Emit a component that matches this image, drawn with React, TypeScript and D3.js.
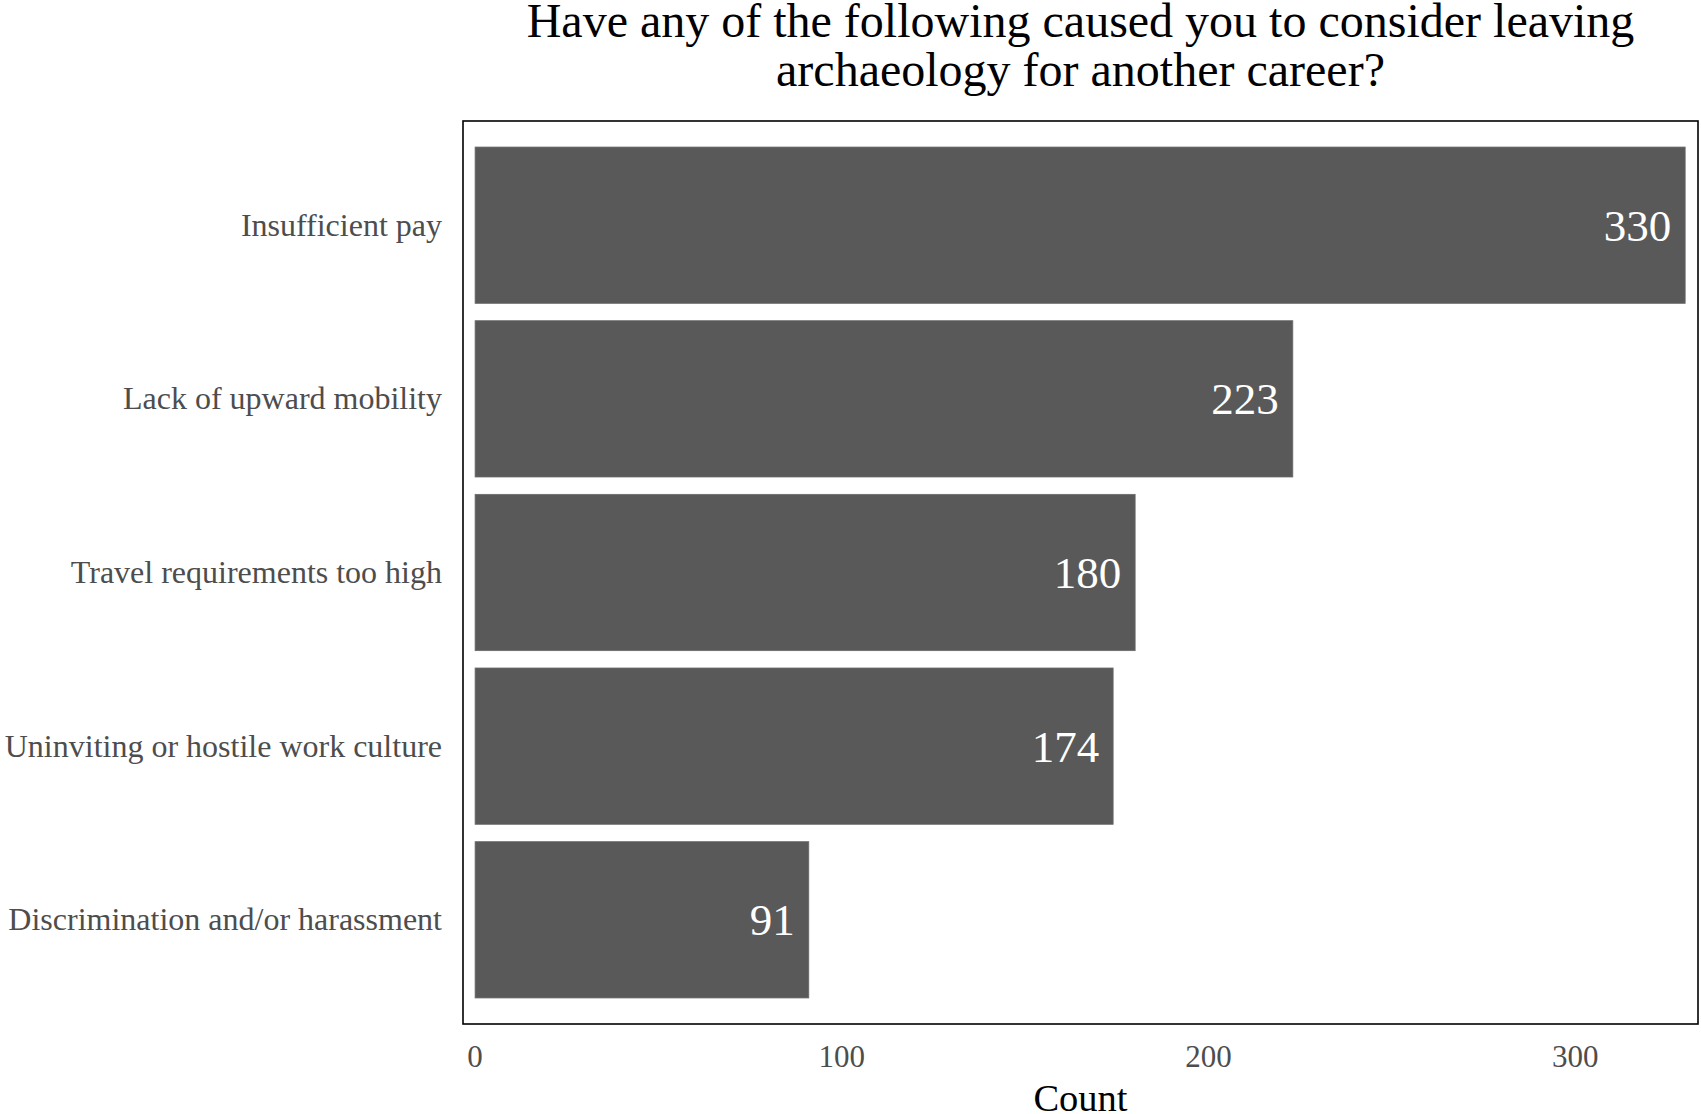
import React from "react";
import * as d3 from "d3";

const categories = [
  "Insufficient pay",
  "Lack of upward mobility",
  "Travel requirements too high",
  "Uninviting or hostile work culture",
  "Discrimination and/or harassment",
];
const counts = [330, 223, 180, 174, 91];
const xTicks = [0, 100, 200, 300];
const titleLines = [
  "Have any of the following caused you to consider leaving",
  "archaeology for another career?",
];
const xLabel = "Count";

const W = 1701;
const H = 1114;
const panel = { left: 463, right: 1698, top: 121, bottom: 1024 };
const FONT = "'Liberation Serif', 'Times New Roman', serif";

export default function App() {
  const x = d3.scaleLinear().domain([-3.3, 333.5]).range([panel.left, panel.right]);
  const y = d3
    .scaleBand<string>()
    .domain(categories)
    .range([panel.top, panel.bottom])
    .paddingInner(0.1)
    .paddingOuter(0.15);
  const cx = (panel.left + panel.right) / 2;

  return (
    <svg
      width={W}
      height={H}
      style={{ position: "absolute", left: 0, top: 0, background: "#fff" }}
      fontFamily={FONT}
    >
      <rect x={0} y={0} width={W} height={H} fill="#fff" />
      {titleLines.map((t, i) => (
        <text key={i} x={cx} y={37 + i * 49} textAnchor="middle" fontSize={48} fill="#000">
          {t}
        </text>
      ))}
      {categories.map((c, i) => {
        const by = y(c)!;
        const bh = y.bandwidth();
        const v = counts[i];
        return (
          <g key={c}>
            <rect
              x={x(0)}
              y={by}
              width={x(v) - x(0)}
              height={bh}
              fill="#595959"
              stroke="#6a6a6a"
              strokeWidth={0.8}
            />
            <text
              x={x(v) - 14}
              y={by + bh / 2 + 15.5}
              textAnchor="end"
              fontSize={45}
              fill="#fff"
            >
              {v}
            </text>
            <text
              x={442}
              y={by + bh / 2 + 10.5}
              textAnchor="end"
              fontSize={32}
              fill="#4d4d4d"
            >
              {c}
            </text>
          </g>
        );
      })}
      <rect
        x={panel.left}
        y={panel.top}
        width={panel.right - panel.left}
        height={panel.bottom - panel.top}
        fill="none"
        stroke="#000"
        strokeWidth={1.6}
      />
      {xTicks.map((t) => (
        <text key={t} x={x(t)} y={1067} textAnchor="middle" fontSize={31} fill="#4d4d4d">
          {t}
        </text>
      ))}
      <text x={cx} y={1111} textAnchor="middle" fontSize={38.5} fill="#000">
        {xLabel}
      </text>
    </svg>
  );
}
